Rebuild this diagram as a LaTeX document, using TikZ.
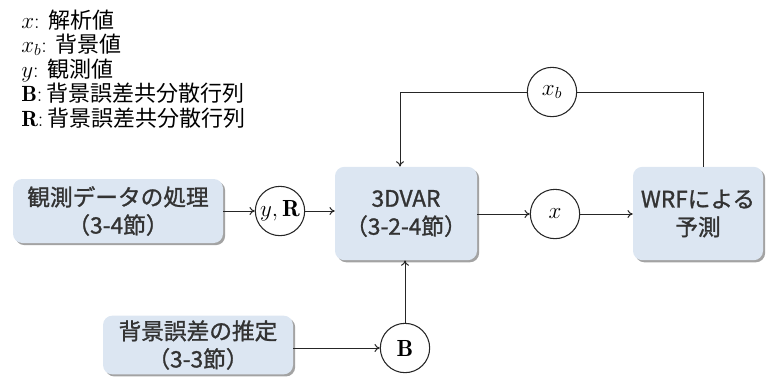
\documentclass[tikz,border=0pt]{standalone}
\usepackage{fontspec}
\usepackage{amsmath}
\newfontfamily\jp{Noto Sans CJK JP}
\newfontfamily\jpb[FakeBold=1.2]{Noto Sans CJK JP}
\usetikzlibrary{shadows,arrows.meta}
\definecolor{boxfill}{HTML}{DCE6F2}
\definecolor{boxtext}{HTML}{333333}
\definecolor{linec}{HTML}{262626}
\tikzset{
  procbox/.style={draw=none, fill=boxfill, rounded corners=7pt, align=center,
    text=boxtext, font=\jpb\fontsize{17}{21}\selectfont, inner sep=0pt,
    drop shadow={shadow xshift=1.6pt, shadow yshift=-1.6pt, fill=black!45, opacity=0.8}},
  varcirc/.style={circle, draw=linec, line width=0.8pt, fill=white, inner sep=0pt,
    minimum size=37pt, font=\fontsize{17.5}{20}\selectfont},
  conn/.style={draw=linec, line width=0.75pt, -{To[length=4pt,width=6pt]}},
  plainconn/.style={draw=linec, line width=0.75pt},
  legend/.style={anchor=west, inner sep=0pt, text height=0.8em, text depth=0.2em,
    font=\fontsize{16.5}{20}\selectfont}
}
\begin{document}
\begin{tikzpicture}[x=0.75pt, y=-0.75pt]
\useasboundingbox (0,0) rectangle (767,376);
% legend
\node[legend] (l1) at (21,24) {$x$: \jp 解析値};
\node[legend] (l2) at (21,48.5) {$x_b$: \jp 背景値};
\node[legend] (l3) at (21,73) {$y$: \jp 観測値};
\node[legend] (l4) at (21,97.5) {$\mathbf{B}$:\,{\jp 背景誤差共分散行列}};
\node[legend] (l5) at (21,122) {$\mathbf{R}$:\,{\jp 背景誤差共分散行列}};
% boxes
\node[procbox, minimum width=157.5pt, minimum height=48pt] (obs) at (118,211) {観測データの処理\\（3-4節）};
\node[procbox, minimum width=106.5pt, minimum height=70pt] (var) at (406,213.5) {3DVAR\\（3-2-4節）};
\node[procbox, minimum width=97.5pt, minimum height=70pt] (wrf) at (698,213.5) {WRFによる\\予測};
\node[procbox, minimum width=142.5pt, minimum height=44pt] (bg) at (198,345) {背景誤差の推定\\（3-3節）};
% circles
\node[varcirc] (yr) at (280,211) {$y,\mathbf{R}$};
\node[varcirc] (xa) at (555,214) {$x$};
\node[varcirc] (xb) at (552,92) {$x_b$};
\node[varcirc] (bm) at (405,348) {$\mathbf{B}$};
% connectors
\coordinate (wtop) at (703,92);
\coordinate (vtop) at (400,92);
\draw[conn] (obs.east) -- (yr.west);
\draw[conn] (yr.east) -- (yr.east -| var.west);
\draw[conn] (var.east |- xa.west) -- (xa.west);
\draw[conn] (xa.east) -- (xa.east -| wrf.west);
\draw[plainconn] (wtop |- wrf.north) -- (wtop) -- (xb.east);
\draw[conn] (xb.west) -- (vtop) -- (vtop |- var.north);
\draw[conn] (bm.north) -- (bm.north |- var.south);
\draw[conn] (bg.east |- bm.west) -- (bm.west);
\end{tikzpicture}
\end{document}
